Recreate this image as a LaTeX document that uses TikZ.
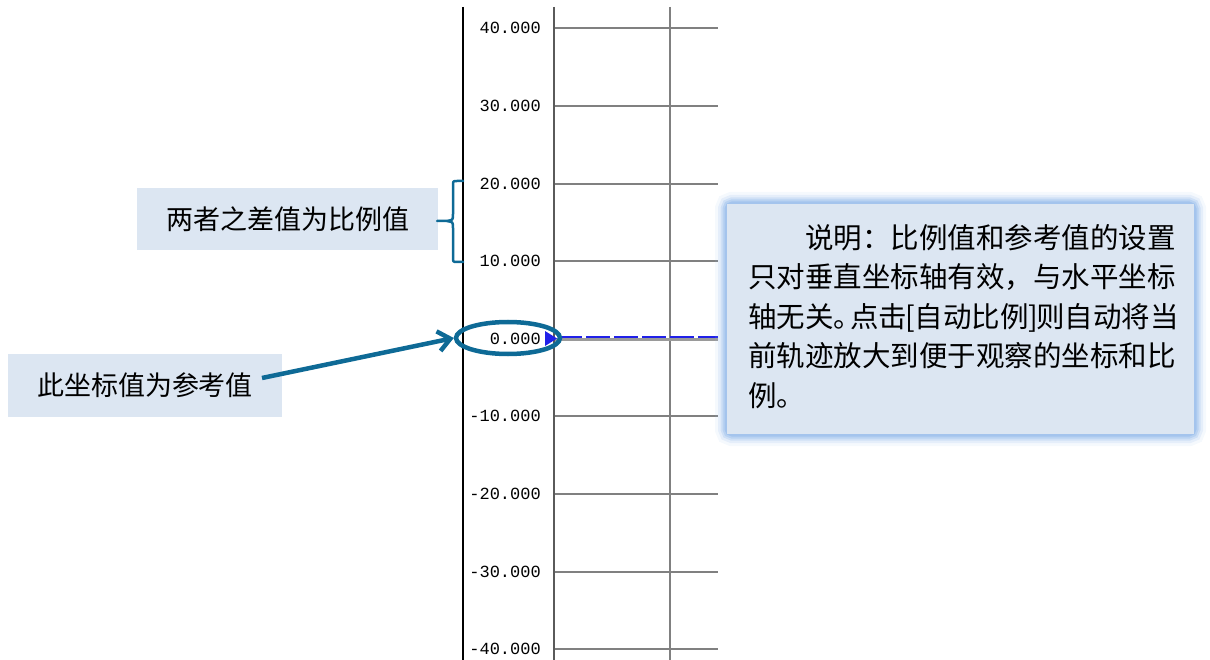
\documentclass[tikz,border=0pt]{standalone}
\usepackage{fontspec}
\newfontfamily\cjk{Noto Sans CJK SC}
\setmonofont{Liberation Mono}
\usetikzlibrary{arrows.meta,shapes.geometric}
\definecolor{teal1}{HTML}{0E6A96}
\definecolor{boxfill}{HTML}{DCE6F2}
\definecolor{glow}{HTML}{9DC0EC}
\definecolor{gridc}{HTML}{808080}
\definecolor{traceblue}{HTML}{2020E8}
\tikzset{
  lbl/.style={anchor=east,font=\fontsize{17}{17}\selectfont\ttfamily,inner sep=0pt},
  gridl/.style={draw=gridc,line width=1.2pt},
  tagbox/.style={fill=boxfill,inner sep=0pt,font=\cjk\fontsize{27}{27}\selectfont},
  accent/.style={draw=teal1,line width=4.5pt},
}
\begin{document}
\begin{tikzpicture}[x=1pt,y=-1pt]
\useasboundingbox (0,0) rectangle (1210,660);
% axis frame
\draw[black,line width=1.5pt] (463,7) -- (463,660);
\draw[gridc!70!black,line width=2.5pt] (554,7) -- (554,660);
\draw[gridl] (670,7) -- (670,660);
\foreach \v/\y in {40.000/28,30.000/106,20.000/184,10.000/261,0.000/339,-10.000/416,-20.000/494,-30.000/572,-40.000/649}{
  \draw[gridl] (555,\y) -- (718,\y);
  \node[lbl] at (541,\y) {\v};
}
% trace on zero line
\draw[gridc!80,line width=2.5pt] (555,339.5) -- (718,339.5);
\draw[traceblue,line width=2pt,dash pattern=on 24pt off 4pt] (558,337) -- (718,337);
\fill[traceblue] (545,331) -- (557,338.5) -- (545,346) -- cycle;
% reference ellipse
\node[accent,ellipse,draw,minimum width=104pt,minimum height=32pt,inner sep=0pt] (ref) at (508,338) {};
% glow callout
\foreach \w/\o in {24/0.10,18/0.18,13/0.3,9/0.45,5/0.75}{
  \draw[glow,line width=\w pt,opacity=\o,rounded corners=5pt] (727,204) rectangle (1194,434);
}
\node[fill=boxfill,minimum width=467pt,minimum height=230pt,inner sep=0pt,anchor=north west] (note) at (727,204) {};
\node[anchor=north west,inner sep=0pt,align=left,font=\cjk\fontsize{28.5}{39.5}\selectfont] (notetext) at (748,224)
  {\hspace{2em}说明：比例值和参考值的设置\\只对垂直坐标轴有效，与水平坐标\\轴无关。\kern-12pt 点击\kern-2pt[自动比例]\kern-2pt 则自动将当\\前轨迹放大到便于观察的坐标和比\\例。};
% tag boxes
\node[tagbox,minimum width=301pt,minimum height=62pt] (diff) at (287.5,219) {两者之差值为比例值};
\node[tagbox,minimum width=274pt,minimum height=63pt] (refbox) at (145,385.5) {此坐标值为参考值};
% brace
\coordinate (btop) at (463,181);
\coordinate (bbot) at (463,262);
\coordinate (btip) at (437,221);
\draw[draw=teal1,line width=2.5pt,line cap=round,line join=round]
  (btop) -- (457,181) .. controls (453,181) .. (453,186) -- (453,214)
  .. controls (453,220) .. (447,221) -- (btip);
\draw[draw=teal1,line width=2.5pt,line cap=round,line join=round]
  (bbot) -- (457,262) .. controls (453,262) .. (453,257) -- (453,228)
  .. controls (453,222) .. (447,221);
% arrow
\draw[accent,-{Straight Barb[length=12pt,width=20pt]}] (262,378) -- (ref.west);
\end{tikzpicture}
\end{document}
